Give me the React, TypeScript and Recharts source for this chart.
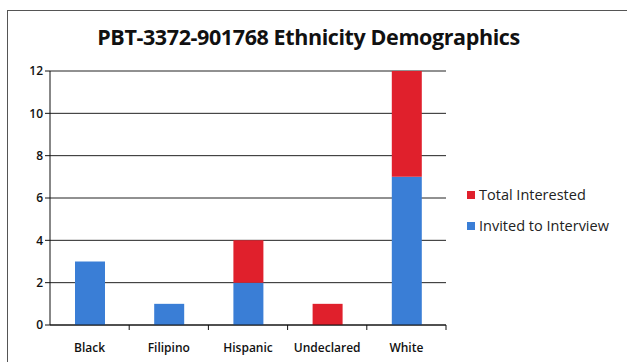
import { Bar, BarChart, CartesianGrid, XAxis, YAxis } from "recharts";

const categories = ["Black", "Filipino", "Hispanic", "Undeclared", "White"];
const invited = [3, 1, 2, 0, 7];
const interested = [0, 0, 2, 1, 5];
const yTicks = [0, 2, 4, 6, 8, 10, 12];

const data = categories.map((name, i) => ({
  name,
  invited: invited[i],
  interested: interested[i],
}));

const BLUE = "#3a7ed6";
const RED = "#e0202c";
const FONT = "Open Sans, sans-serif";

function CategoryTick(props: any) {
  const { x, y, payload, width } = props;
  const band = width / categories.length;
  return (
    <g>
      <line x1={x + band / 2} x2={x + band / 2} y1={y - 8} y2={y - 3} stroke="#111" />
      <text x={x} y={y + 19} textAnchor="middle" fill="#111" fontSize={12} fontFamily={FONT} fontWeight={600}>
        {payload.value}
      </text>
    </g>
  );
}

function LegendBox() {
  const items = [
    { label: "Total Interested", color: RED },
    { label: "Invited to Interview", color: BLUE },
  ];
  return (
    <div style={{ position: "absolute", left: 467, top: 179, fontFamily: FONT, fontSize: 14.5, color: "#222" }}>
      {items.map((it) => (
        <div key={it.label} style={{ display: "flex", alignItems: "center", height: 31 }}>
          <span style={{ width: 8, height: 8, background: it.color, marginRight: 4 }} />
          {it.label}
        </div>
      ))}
    </div>
  );
}

export default function App() {
  return (
    <div style={{ position: "absolute", left: 0, top: 0, width: 627, height: 362, background: "#fff", overflow: "hidden" }}>
      <div
        style={{
          position: "absolute",
          left: 7,
          top: 10,
          width: 640,
          height: 380,
          border: "1px solid #555",
        }}
      />
      <div
        style={{
          position: "absolute",
          left: 0,
          width: 617,
          top: 22,
          textAlign: "center",
          fontFamily: FONT,
          fontWeight: 700,
          fontSize: 21.5,
          letterSpacing: -0.4,
          color: "#111",
        }}
      >
        PBT-3372-901768 Ethnicity Demographics
      </div>
      <BarChart
        width={627}
        height={362}
        data={data}
        margin={{ top: 71, right: 181, bottom: 7, left: 0 }}
        barSize={30}
        style={{ position: "absolute", left: 0, top: 0 }}
      >
        <CartesianGrid horizontal vertical={false} stroke="#222" strokeWidth={1} />
        <XAxis
          dataKey="name"
          height={30}
          stroke="#111"
          interval={0}
          tickLine={false}
          tick={<CategoryTick />}
        />
        <YAxis
          width={50}
          domain={[0, 12]}
          ticks={yTicks}
          stroke="#111"
          tickSize={5}
          tick={{ fill: "#111", fontSize: 12, fontFamily: FONT, fontWeight: 600 }}
        />
        <Bar dataKey="invited" stackId="a" fill={BLUE} isAnimationActive={false} />
        <Bar dataKey="interested" stackId="a" fill={RED} isAnimationActive={false} />
      </BarChart>
      <LegendBox />
    </div>
  );
}
